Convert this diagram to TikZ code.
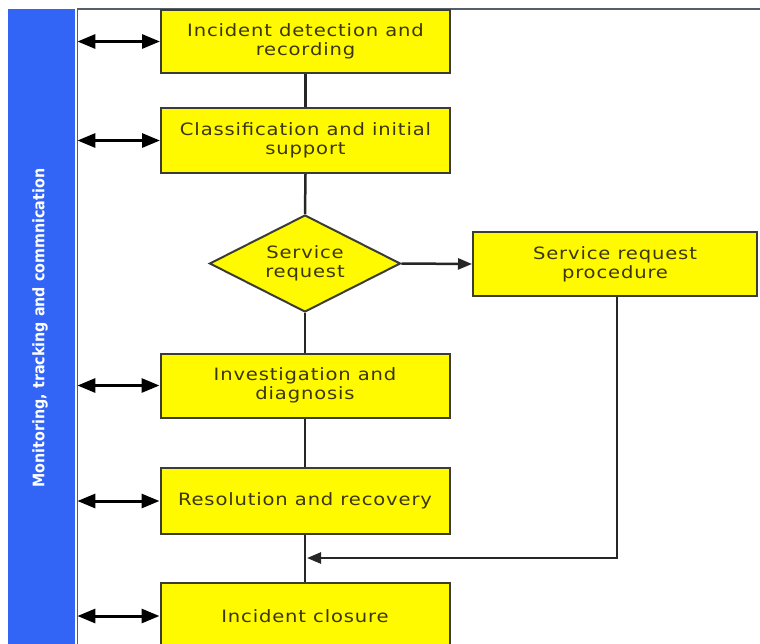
\documentclass[tikz,border=0pt]{standalone}
\usepackage{fontspec}
\setmainfont{DejaVu Sans}[FakeStretch=1.15, LetterSpace=5]
\newfontfamily\barfont{DejaVu Sans Condensed Bold}
\usetikzlibrary{shapes.geometric,arrows.meta}
\definecolor{barblue}{RGB}{50,100,245}
\definecolor{boxyellow}{RGB}{255,250,0}
\definecolor{boxedge}{RGB}{60,60,55}
\definecolor{txt}{RGB}{60,55,10}
\definecolor{frame}{RGB}{85,95,105}
\tikzset{
  x=1pt, y=-1pt,
  boxtext/.style={align=center, text=txt, font=\fontsize{17}{19}\selectfont},
  procbox/.style={draw=boxedge, line width=2pt, fill=boxyellow, rectangle,
    minimum width=289pt, minimum height=64pt, inner sep=0pt, boxtext},
  decision/.style={draw=boxedge, line width=2pt, fill=boxyellow, diamond,
    minimum width=191pt, minimum height=97pt, inner sep=0pt},
  flow/.style={draw=black!85, line width=2.5pt},
  flowarrow/.style={flow, -{Triangle[length=14pt,width=11pt]}},
  dbl/.style={draw=black, line width=3pt, {Triangle[length=18pt,width=14pt]}-{Triangle[length=18pt,width=14pt]}},
}
\begin{document}
\begin{tikzpicture}
\useasboundingbox (0,0) rectangle (760,643);
\fill[white] (0,0) rectangle (760,643);
% side bar
\node[fill=barblue, rectangle, minimum width=67pt, minimum height=660pt, inner sep=0pt, anchor=north west] (bar) at (8,9) {};
\node[rotate=90, text=white, font=\barfont\fontsize{15.9}{18}\selectfont] (bartext) at (40,328) {Monitoring, tracking and commnication};
% frame
\draw[frame, line width=2pt] (77,9) -- (760,9);
\draw[frame, line width=1pt] (77,9) -- (77,660);
% boxes
\node[procbox, minimum height=63pt] (b1) at (305.5,41.5) {Incident detection and\\recording};
\node[procbox, minimum height=65pt] (b2) at (305.5,140.5) {Classification and initial\\support};
\node[decision] (d) at (305,263.5) {};
\node[boxtext] (dtext) at (d.center) {Service\\request};
\node[procbox, minimum width=284pt] (srp) at (615,264) {Service request\\procedure};
\node[procbox] (inv) at (305,385.5) {Investigation and\\diagnosis};
\node[procbox, minimum height=66pt] (res) at (305,501) {Resolution and recovery};
\node[procbox, minimum height=66pt] (clo) at (305,616) {Incident closure};
% flow
\draw[flow] (b1.south) -- (b2.north);
\draw[flow] (b2.south) -- (d.north);
\draw[flow] (d.south) -- (inv.north);
\draw[flow] (inv.south) -- (res.north);
\draw[flow] (res.south) -- (clo.north);
\draw[flowarrow] (d.east) -- (srp.west);
\coordinate (j) at (307,558);
\draw[flowarrow] ([xshift=2pt]srp.south) |- (j);
% monitoring arrows
\foreach \n in {b1,b2,inv,res,clo}{
  \draw[dbl] (bar.east |- \n.west) ++(2,0) -- (\n.west);
}
\end{tikzpicture}
\end{document}
